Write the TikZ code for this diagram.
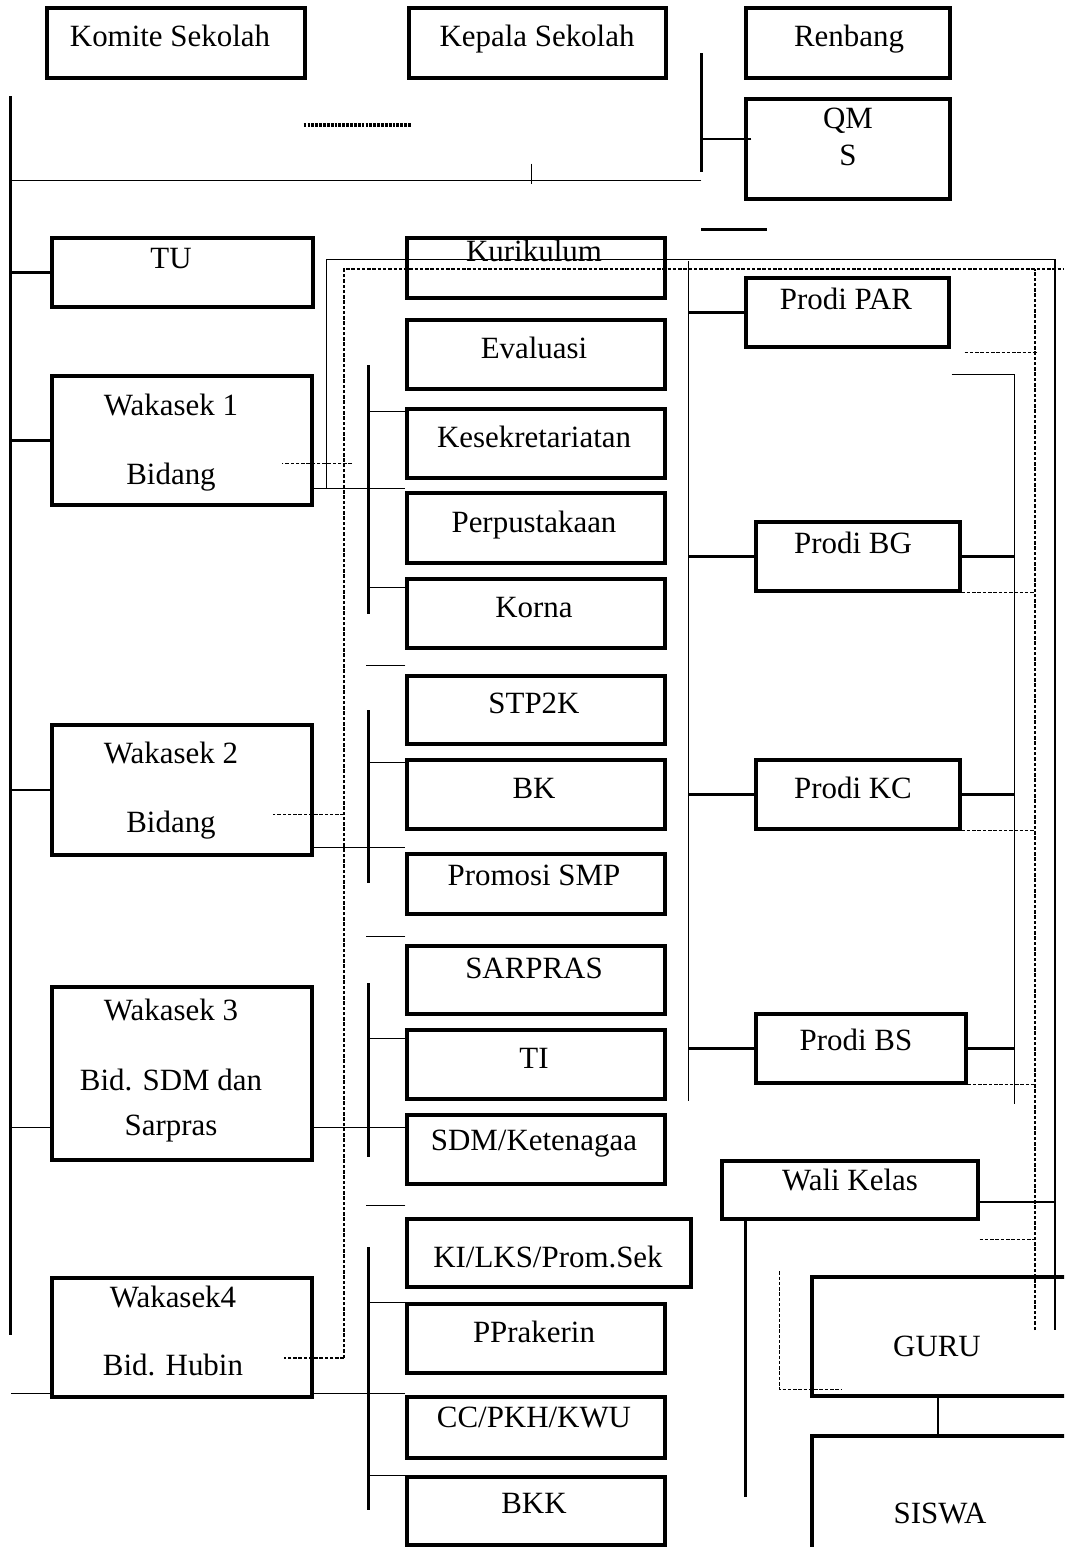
\documentclass[tikz,border=0pt]{standalone}
\usepackage{fontspec}
\setmainfont{Liberation Serif}
\usetikzlibrary{fit}

\begin{document}
\begin{tikzpicture}[x=0.02cm,y=-0.02cm,
    every node/.style={font=\fontsize{17.6}{21}\selectfont},
    box/.style={draw,line width=1.9pt,inner sep=0pt},
    lbl/.style={anchor=base,inner sep=0pt},
    spine/.style={line width=1.6pt},
    wire/.style={line width=0.75pt},
    dashline/.style={line width=0.8pt,dash pattern=on 2pt off 1pt},
    dotline/.style={line width=2.4pt,dash pattern=on 1.6pt off 0.6pt}]
    % page frame
    \useasboundingbox (0,0) rectangle (1064,1547);
    \clip (0,0) rectangle (1064,1547);
    % boxes: name/left/top/right/bottom/text x/baseline/text
    \foreach \n/\xa/\ya/\xb/\yb/\tx/\ty/\t in {
      komite/47/8/305/78/170/47/Komite Sekolah,
      kepala/409/8/666/78/537/47/Kepala Sekolah,
      renbang/746/8/950/78/849/47/Renbang,
      qms/746/99/950/199/848/129/QM,
      tu/52/238/313/307/171/269/TU,
      kurikulum/407/238/665/298/534/262/Kurikulum,
      evaluasi/407/320/665/389/534/358/Evaluasi,
      kesek/407/409/665/478/534/447/Kesekretariatan,
      perpus/407/493/665/563/534/532/Perpustakaan,
      korna/407/579/665/648/534/617/Korna,
      stp/407/676/665/744/534/713/STP2K,
      bk/407/760/665/829/534/798/BK,
      promosi/407/854/665/914/534/885/Promosi SMP,
      sarpras/407/946/665/1014/534/978/SARPRAS,
      ti/407/1030/665/1099/534/1068/TI,
      sdm/407/1115/665/1184/534/1150/{SDM/Ketenagaa},
      kilks/407/1219/691/1287/548/1267/{KI/LKS/Prom.Sek},
      prakerin/407/1304/665/1373/534/1342/PPrakerin,
      cc/407/1397/665/1458/534/1427/{CC/PKH/KWU},
      bkk/407/1477/665/1545/534/1513/BKK,
      wk1/52/376/312/505/171/415/Wakasek 1,
      wk2/52/725/312/855/171/763/Wakasek 2,
      wk3/52/987/312/1160/171/1020/Wakasek 3,
      wk4/52/1278/312/1397/173/1307/Wakasek4,
      par/746/278/949/347/846/310/Prodi PAR,
      bg/756/522/960/591/853/553/Prodi BG,
      kc/756/760/960/829/853/798/Prodi KC,
      bs/756/1014/966/1083/856/1050/Prodi BS,
      wali/722/1161/978/1219/850/1190/Wali Kelas,
      guru/812/1277/1074/1396/937/1356/GURU,
      siswa/812/1436/1074/1600/940/1523/SISWA}{
      \node[box,fit={(\xa,\ya) (\xb,\yb)}] (\n) {};
      \node[lbl] (\n-t) at (\tx,\ty) {\t};
    }
    % second lines
    \node[lbl] (qms-t2) at (848,166) {S};
    \node[lbl] (wk1-t2) at (171,484) {Bidang};
    \node[lbl] (wk2-t2) at (171,832) {Bidang};
    \node[lbl] (wk3-t2) at (171,1090) {Bid. SDM dan};
    \node[lbl] (wk3-t3) at (171,1135) {Sarpras};
    \node[lbl] (wk4-t2) at (173,1375) {Bid. Hubin};

    % top part
    \draw[dotline] (komite.east) ++(-3,82) -- ++(107,0);
    \path (qms.north west) ++(-43,-44) coordinate (qtop);
    \draw[spine] (qtop) -- ++(0,119) coordinate (qbot);
    \draw[spine] (qms.west) ++(7,-10) -- (qtop |- 0,139);
    \draw[wire] (qbot) ++(0,8) -- ++(-691,0);
    \draw[wire] (kepala.south) ++(-6,84) -- ++(0,20);
    \draw[spine] (qms.south west) ++(-43,29) -- ++(66,0);

    % left spine
    \path (tu.north west) ++(-40,-140) coordinate (ltop);
    \draw[spine] (ltop) -- ++(0,1239);
    \foreach \b in {tu,wk1,wk2} \draw[spine] (ltop |- \b.west) -- (\b.west);
    \path (wk1.south east) ++(0,-18) coordinate (w1r)
          (wk2.south east) ++(0,-9) coordinate (w2r)
          (wk3.south east) ++(0,-34) coordinate (w3r)
          (wk4.south east) ++(0,-5) coordinate (w4r);
    \draw[wire] (ltop |- w3r) -- (wk3.west |- w3r);
    \draw[wire] (wk4.west |- w4r) -- ++(-39,0);
    \foreach \w/\b in {w1r/perpus,w2r/promosi,w3r/sdm,w4r/cc}
      \draw[wire] (\w) -- (\b.west |- \w);

    % line from wakasek 1 round the top
    \coordinate (rbot) at (1055,1330);
    \draw[wire] (w1r) ++(13,0) -- ++(0,-229) -| (rbot);
    % dashed frame
    \coordinate (dbot) at (344,1358);
    \coordinate (drb) at (1035,1330);
    \draw[dashline] (dbot) -- ++(0,-1089) -- ++(720,0);
    \draw[dashline] (drb) -- ++(0,-1061);
    \draw[dashline] (dbot) -- ++(-60,0);
    \draw[dashline] (dbot |- w2r) ++(0,-33) -- ++(-71,0);
    \draw[dashline] (dbot |- w1r) ++(8,-25) -- ++(-70,0);
    \draw[dashline] (par.south east) ++(14,4) -- ++(72,0);
    \foreach \b in {bg,kc,bs} \draw[dashline] (\b.south east) -- (drb |- \b.south east);
    \draw[dashline] (wali.south east) ++(0,19) -- ++(57,0);
    \draw[dashline] (guru.north west) ++(-31,-4) -- ++(0,118) -- ++(62,0);

    % unit groups
    \draw[spine] (kesek.north west) ++(-37,-42) -- ++(0,249);
    \draw[spine] (stp.north west) ++(-37,36) -- ++(0,173);
    \draw[spine] (sarpras.north west) ++(-37,39) -- ++(0,174);
    \draw[spine] (kilks.north west) ++(-37,30) -- ++(0,263);
    \draw[wire] (kesek.north west) ++(0,4) -- ++(-37,0);
    \draw[wire] (korna.north west) ++(0,10) -- ++(-37,0);
    \draw[wire] (bk.north west) ++(0,4) -- ++(-37,0);
    \draw[wire] (ti.north west) ++(0,10) -- ++(-37,0);
    \draw[wire] (prakerin.north west) -- ++(-37,0);
    \draw[wire] (bkk.north west) -- ++(-37,0);
    \draw[wire] (stp.north west) ++(0,-9) -- ++(-39,0);
    \draw[wire] (sarpras.north west) ++(0,-8) -- ++(-39,0);
    \draw[wire] (kilks.north west) ++(0,-12) -- ++(-39,0);

    % prodi lines
    \draw[wire] (kurikulum.north east) ++(22,25) coordinate (mtop) -- ++(0,840);
    \foreach \b in {par,bg,kc,bs} \draw[spine] (mtop |- \b.west) -- (\b.west);
    \draw[wire] (par.south east) ++(1,26) -- ++(63,0) coordinate (itop) -- ++(0,729);
    \foreach \b in {bg,kc,bs} \draw[spine] (\b.east) -- (itop |- \b.east);

    % wali kelas, guru, siswa
    \draw[spine] (wali.east) ++(0,12) -- (rbot |- 0,1202);
    \draw[spine] (wali.south west) ++(25,0) -- ++(0,276);
    \draw[spine] (guru.south -| 938,0) -- (siswa.north -| 938,0);
\end{tikzpicture}
\end{document}
